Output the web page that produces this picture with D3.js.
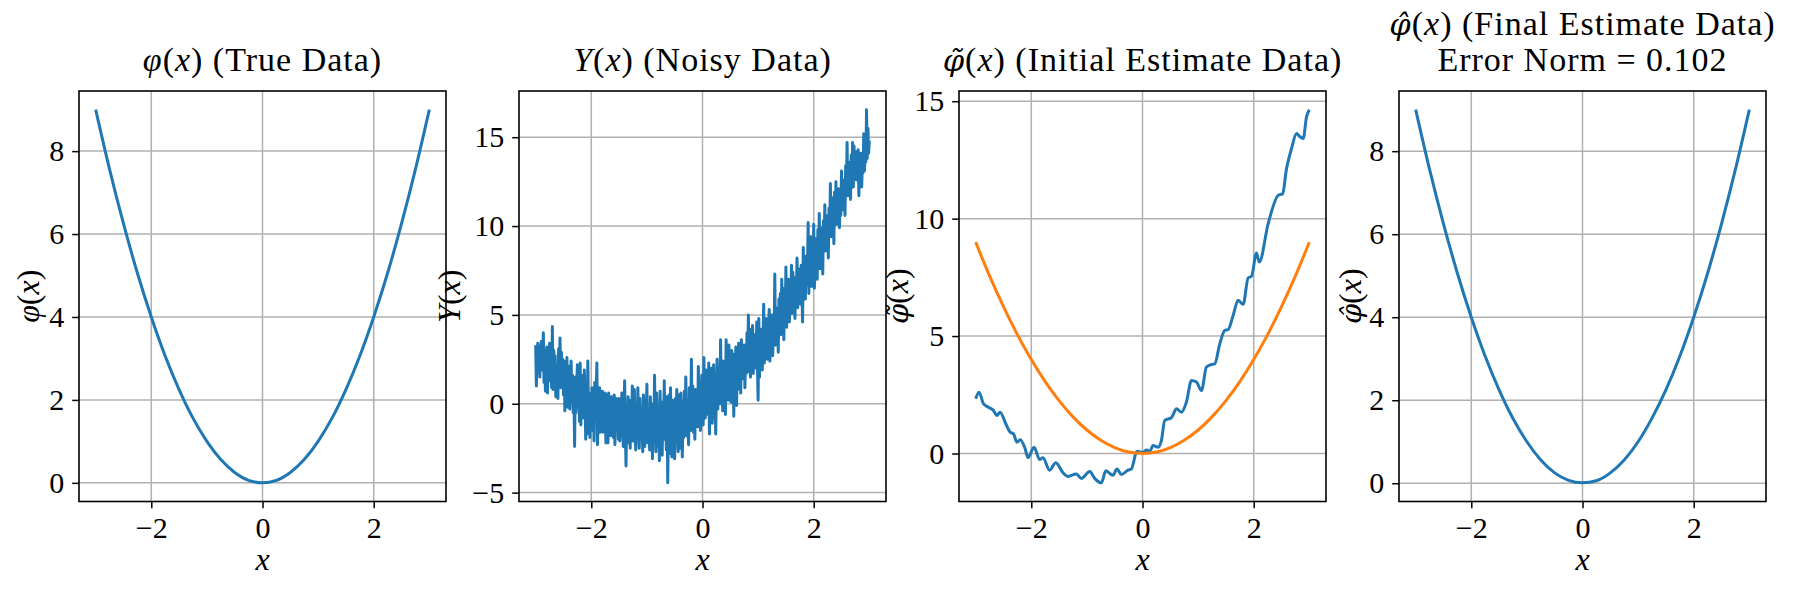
<!DOCTYPE html>
<html>
<head>
<meta charset="utf-8">
<script src="https://cdn.jsdelivr.net/npm/d3@7"></script>
<style>
body { margin: 0; background: #fff; }
text { font-family: "Liberation Serif", serif; fill: #000; }
.grid line { stroke: #b0b0b0; stroke-width: 1.5; }
.tick line { stroke: #000; stroke-width: 1.5; }
.tick text { font-size: 30px; }
</style>
</head>
<body>
<svg width="1798" height="590"></svg>
<script>
// x grid shared by the smooth curves
const xGrid = [-3, -2.75, -2.5, -2.25, -2, -1.75, -1.5, -1.25, -1, -0.75, -0.5, -0.25, 0,
  0.25, 0.5, 0.75, 1, 1.25, 1.5, 1.75, 2, 2.25, 2.5, 2.75, 3]

// phi(x), true data
const trueVals = [9, 7.56, 6.25, 5.06, 4, 3.06, 2.25, 1.56, 1, 0.56, 0.25, 0.06, 0,
  0.06, 0.25, 0.56, 1, 1.56, 2.25, 3.06, 4, 5.06, 6.25, 7.56, 9]

// final estimate (almost on top of the true curve)
const finalVals = [9.0, 7.56, 6.25, 5.06, 4.0, 3.06, 2.25, 1.56, 1.0, 0.56, 0.25, 0.07, 0.01,
  0.06, 0.25, 0.56, 1.0, 1.57, 2.25, 3.06, 4.0, 5.06, 6.25, 7.56, 9.0]

// Y(x), noisy samples evenly spaced from -3 to 3 (8 per 0.1)
const noisyVals = [
  3.3, 1.0, 2.9, 3.4, 1.8, 2.7, 1.5, 3.1,
  3.5, 1.9, 2.6, 4.0, 1.2, 3.0, 0.7, 2.4,
  3.2, 0.6, 2.8, 1.6, 3.4, 1.3, 2.2, 0.9,
  4.35, 0.8, 3.0, 1.9, 2.7, 0.4, 2.2, 1.4,
  0.3, 3.1, 1.6, 3.7, 0.9, 2.9, 1.2, 2.5,
  0.5, 2.4, -0.4, 1.9, 0.8, 2.6, -0.2, 1.3,
  2.1, -0.3, 1.2, 2.4, 0.1, 1.6, -0.5, 0.9,
  -2.4, 1.5, -0.5, 0.9, 2.2, -0.1, 1.1, -1.0,
  2.3, -1.2, 0.8, -0.3, 1.6, -0.8, 1.9, 0.2,
  -2.0, 1.0, -1.7, 2.4, -0.5, 0.6, -1.9, 0.3,
  -0.6, 0.9, -1.5, 0.6, -2.1, 1.2, -0.8, 0.4,
  2.3, -2.3, 0.2, -1.0, 0.9, -1.6, 0.5, -0.7,
  0.7, -1.6, 0.4, -0.9, 0.6, -2.2, -0.2, 0.5,
  -2.2, 0.6, -1.3, 0.1, -1.8, 0.4, -0.7, -1.6,
  -1.9, 0.5, -2.3, -0.4, 0.3, -1.5, 0.1, -2.0,
  0.3, -2.1, -0.6, -1.8, 0.6, -1.2, -2.4, -0.3,
  1.3, -1.5, -3.5, -0.2, -1.9, 0.4, -2.2, -0.8,
  -2.5, 0.2, -1.4, 1.0, -2.1, -0.5, 0.8, -1.7,
  -2.6, -0.3, -1.9, 0.9, -1.2, -2.5, 0.3, -1.0,
  -2.0, -0.8, -2.7, 0.5, -1.5, -2.4, 0.2, -0.9,
  1.1, -2.2, -0.4, -1.5, -2.6, 0.4, -1.8, -0.6,
  -3.1, 0.0, -2.1, 1.6, -1.3, -2.7, 0.6, -1.1,
  -2.4, -0.6, -3.2, 0.7, -1.8, -0.2, -2.9, 0.1,
  -1.2, 1.3, -2.0, -0.5, -2.6, 0.4, -4.45, -0.9,
  0.5, -2.8, 0.9, -1.6, -3.0, 0.2, -1.1, -2.3,
  -3.1, 0.3, -2.2, 0.8, -1.4, -2.7, 0.5, -1.0,
  -2.5, 0.6, -1.4, -3.0, 0.1, -1.9, 0.7, -1.2,
  1.5, -1.8, 0.2, -1.1, -2.3, 0.9, -0.6, -1.5,
  2.5, -0.9, 1.0, -1.6, 0.4, -2.0, 0.8, -0.7,
  0.6, -1.3, 2.1, -0.4, 1.2, -1.5, 0.3, 1.6,
  1.5, -1.2, 2.6, 0.3, -0.8, 1.9, -0.5, 1.0,
  -0.6, 2.3, -1.7, 1.2, 0.1, 2.0, -1.1, 0.7,
  2.2, -0.8, 1.4, -1.7, 0.9, 2.5, -0.3, 1.1,
  2.0, 0.0, 3.6, 0.6, 1.7, -0.4, 2.4, 1.0,
  2.3, -0.6, 3.6, 0.9, 1.8, 0.2, 3.3, 1.4,
  2.6, 0.1, 3.0, 1.2, 2.1, -0.7, 2.8, 1.6,
  3.2, -0.1, 2.5, 0.8, 3.4, 1.3, 2.2, 0.6,
  3.6, 1.4, 2.9, 1.9, 3.3, 0.9, 2.6, 1.7,
  4.0, 1.8, 5.0, 2.5, 3.4, 1.5, 4.2, 2.8,
  4.4, 1.7, 3.9, 2.6, 3.5, 2.0, 4.6, 2.3,
  0.2, 4.8, 1.5, 3.9, 2.5, 4.2, 1.9, 3.3,
  5.6, 2.3, 4.1, 2.8, 4.8, 2.5, 3.6, 4.4,
  5.3, 2.4, 4.6, 3.0, 5.0, 2.7, 4.2, 3.5,
  7.3, 3.3, 5.4, 3.7, 4.9, 2.9, 5.9, 4.1,
  6.2, 3.9, 7.0, 4.6, 5.8, 3.6, 6.5, 4.9,
  7.7, 4.3, 6.4, 5.4, 7.0, 4.6, 6.1, 5.1,
  7.8, 5.1, 7.4, 6.0, 7.1, 4.8, 6.7, 5.7,
  8.2, 5.4, 7.6, 6.2, 7.4, 5.6, 7.8, 6.6,
  4.6, 8.8, 6.3, 7.9, 5.9, 8.3, 6.7, 7.5,
  10.2, 6.2, 8.8, 7.0, 9.4, 6.6, 8.5, 7.6,
  10.1, 6.5, 9.3, 7.4, 8.6, 7.0, 9.8, 7.9,
  10.7, 7.6, 9.9, 8.4, 9.2, 7.3, 10.3, 8.8,
  11.2, 8.6, 10.6, 9.1, 10.0, 8.2, 11.0, 9.5,
  12.4, 9.4, 11.6, 9.8, 10.9, 9.0, 11.9, 10.4,
  12.5, 10.1, 11.8, 10.7, 12.1, 9.9, 11.4, 10.6,
  13.1, 10.9, 12.6, 11.3, 12.2, 10.6, 13.4, 11.8,
  14.7, 11.7, 13.6, 12.4, 13.1, 11.5, 14.0, 12.8,
  14.7, 12.2, 14.5, 13.0, 13.8, 12.6, 14.2, 13.3,
  14.3, 11.7, 13.9, 12.6, 14.1, 12.2, 13.5, 13.0,
  15.2, 13.1, 14.4, 13.6, 16.55, 13.8, 15.5, 14.1,
  14.8
]

// initial estimate (smoothed)
const initX = [-3.0, -2.94, -2.86, -2.77, -2.68, -2.62, -2.56, -2.47, -2.38, -2.32, -2.26, -2.2,
  -2.11, -2.06, -1.95, -1.85, -1.79, -1.67, -1.56, -1.43, -1.34, -1.19, -1.1, -0.95, -0.86,
  -0.74, -0.66, -0.53, -0.46, -0.38, -0.26, -0.2, -0.1, 0.0, 0.08, 0.13, 0.19, 0.28, 0.34,
  0.4, 0.52, 0.61, 0.7, 0.79, 0.88, 0.97, 1.06, 1.15, 1.24, 1.3, 1.39, 1.48, 1.54, 1.63,
  1.72, 1.81, 1.9, 1.96, 2.05, 2.1, 2.26, 2.44, 2.52, 2.59, 2.68, 2.77, 2.82, 2.89, 2.95, 3.0]
const initY = [2.33, 2.61, 2.12, 1.97, 1.83, 1.62, 1.76, 1.33, 0.91, 0.84, 0.48, 0.58,
  0.2, -0.18, 0.27, -0.26, -0.18, -0.71, -0.39, -0.82, -0.98, -0.87, -1.06, -0.77, -1.06,
  -1.25, -0.74, -0.93, -0.66, -0.9, -0.71, -0.66, 0.09, 0.05, 0.15, 0.08, 0.34, 0.27, 0.55,
  1.41, 1.52, 1.9, 1.76, 2.19, 3.11, 3.04, 2.68, 3.68, 3.79, 3.82, 4.67, 5.24, 5.27, 5.88,
  6.52, 6.35, 7.48, 7.54, 8.54, 8.15, 9.79, 10.99, 11.06, 12.13, 12.98, 13.62, 13.51, 13.41, 14.33, 14.64]

const xTicks = [-2, 0, 2]
const yTicks = [
  [0, 2, 4, 6, 8],
  [-5, 0, 5, 10, 15],
  [0, 5, 10, 15],
  [0, 2, 4, 6, 8]
]

const blue = "#1f77b4", orange = "#ff7f0e"
const noisyIndex = d3.scaleLinear().domain([0, noisyVals.length - 1]).range([-3, 3])
const noisyX = noisyVals.map(function (d, i) { return noisyIndex(i) })

// text pieces: [string, italic, font]  (accented phi uses a font with mark anchors)
const phi = "\u03c6"
const accFont = "DejaVu Serif"
const phiTilde = phi + "\u0303", phiHat = phi + "\u0302"
const panels = [
  {
    title: [[[phi, 1], ["(", 0], ["x", 1], [") (True Data)", 0]]],
    ylabel: [[phi, 1], ["(", 0], ["x", 1], [")", 0]],
    series: [{ x: xGrid, y: trueVals, color: blue }]
  },
  {
    title: [[["Y", 1], ["(", 0], ["x", 1], [") (Noisy Data)", 0]]],
    ylabel: [["Y", 1], ["(", 0], ["x", 1], [")", 0]],
    series: [{ x: noisyX, y: noisyVals, color: blue, linear: true }]
  },
  {
    title: [[[phiTilde, 1, accFont], ["(", 0], ["x", 1], [") (Initial Estimate Data)", 0]]],
    ylabel: [[phiTilde, 1, accFont], ["(", 0], ["x", 1], [")", 0]],
    series: [{ x: initX, y: initY, color: blue }, { x: xGrid, y: trueVals, color: orange }]
  },
  {
    title: [[[phiHat, 1, accFont], ["(", 0], ["x", 1], [") (Final Estimate Data)", 0]],
            [["Error Norm = 0.102", 0]]],
    ylabel: [[phiHat, 1, accFont], ["(", 0], ["x", 1], [")", 0]],
    series: [{ x: xGrid, y: finalVals, color: blue }]
  }
]

// layout
const lefts = [79, 519, 959, 1399]
const ylabelOffset = [50, 69, 61, 48]
const plotW = 367
const plotTop = 91
const plotH = 410.5

const svg = d3.select("svg")

function rich(parent, x, y, size, spacing, parts) {
  const t = parent.append("text")
    .attr("x", x).attr("y", y)
    .attr("text-anchor", "middle")
    .style("font-size", size + "px")
    .style("letter-spacing", spacing + "px")
  parts.forEach(function (p) {
    const ts = t.append("tspan").text(p[0]).style("font-style", p[1] ? "italic" : "normal")
    if (p[2]) ts.style("font-family", p[2]).style("font-size", (size * 0.9) + "px")
  })
  return t
}

function padded(vals) {
  const e = d3.extent(vals)
  const m = (e[1] - e[0]) * 0.05
  return [e[0] - m, e[1] + m]
}

panels.forEach(function (p, i) {
  const left = lefts[i]
  const x = d3.scaleLinear()
    .domain(padded(d3.merge(p.series.map(function (s) { return s.x }))))
    .range([left, left + plotW])
  const y = d3.scaleLinear()
    .domain(padded(d3.merge(p.series.map(function (s) { return s.y }))))
    .range([plotTop + plotH, plotTop])

  const g = svg.append("g").attr("class", "panel")

  // grid
  const grid = g.append("g").attr("class", "grid")
  grid.selectAll("line.gx").data(xTicks).enter().append("line")
    .attr("x1", function (d) { return x(d) }).attr("x2", function (d) { return x(d) })
    .attr("y1", plotTop).attr("y2", plotTop + plotH)
  grid.selectAll("line.gy").data(yTicks[i]).enter().append("line")
    .attr("y1", function (d) { return y(d) }).attr("y2", function (d) { return y(d) })
    .attr("x1", left).attr("x2", left + plotW)

  // curves
  g.append("defs").append("clipPath").attr("id", "clip" + i)
    .append("rect").attr("x", left).attr("y", plotTop).attr("width", plotW).attr("height", plotH)
  p.series.forEach(function (s) {
    const line = d3.line()
      .x(function (d) { return x(d[0]) })
      .y(function (d) { return y(d[1]) })
      .curve(s.linear ? d3.curveLinear : d3.curveMonotoneX)
    g.append("path")
      .datum(d3.zip(s.x, s.y))
      .attr("clip-path", "url(#clip" + i + ")")
      .attr("fill", "none")
      .attr("stroke", s.color)
      .attr("stroke-width", 3)
      .attr("stroke-linejoin", "round")
      .attr("d", line)
  })

  // axes
  const fmt = d3.format("d")
  const xAxis = d3.axisBottom(x).tickValues(xTicks).tickFormat(fmt).tickSize(6.8).tickPadding(8)
  const yAxis = d3.axisLeft(y).tickValues(yTicks[i]).tickFormat(fmt).tickSize(6.8).tickPadding(8)
  g.append("g").attr("transform", "translate(0," + (plotTop + plotH) + ")").call(xAxis)
    .call(function (a) { a.select(".domain").remove() })
  g.append("g").attr("transform", "translate(" + left + ",0)").call(yAxis)
    .call(function (a) { a.select(".domain").remove() })
  g.selectAll(".tick text").attr("font-family", null).attr("font-size", null)

  // frame
  g.append("rect")
    .attr("x", left).attr("y", plotTop).attr("width", plotW).attr("height", plotH)
    .attr("fill", "none").attr("stroke", "#000").attr("stroke-width", 1.6)

  // title
  const cx = left + plotW / 2
  p.title.forEach(function (lineParts, k) {
    rich(g, cx, 71 - (p.title.length - 1 - k) * 36, 34, 1, lineParts)
  })

  // axis labels
  rich(g, cx, 570, 32, 0, [["x", 1]])
  const yg = g.append("g")
    .attr("transform", "translate(" + (left - ylabelOffset[i]) + "," + (plotTop + plotH / 2) + ") rotate(-90)")
  rich(yg, 0, 10, 32, 0, p.ylabel)
})
</script>
</body>
</html>
